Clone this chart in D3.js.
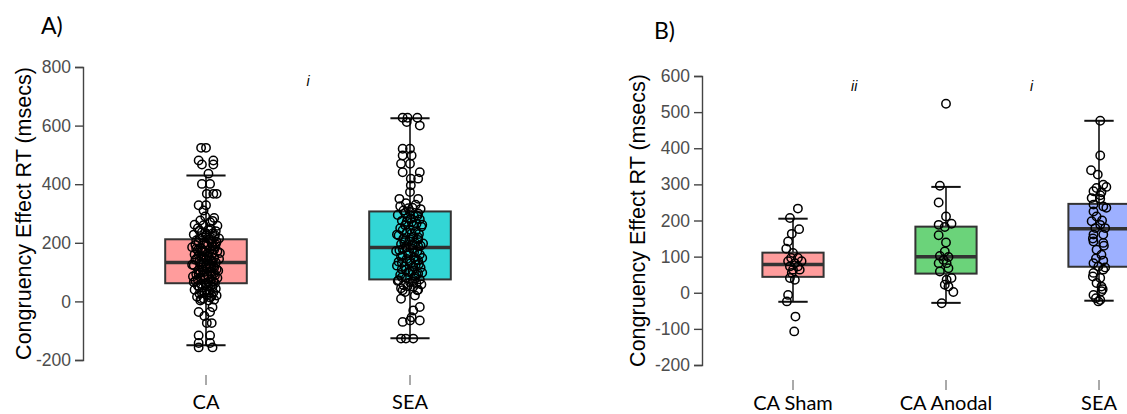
<!DOCTYPE html>
<html>
<head>
<meta charset="utf-8">
<style>
  body { margin: 0; background: #fff; }
  svg { display: block; }
</style>
</head>
<body>
<svg id="chart" width="1127" height="414"></svg>
<script src="https://d3js.org/d3.v7.min.js"></script>
<script>

// ---- panel A data ----
var catsA = ["CA", "SEA"];
var ticksA = [-200, 0, 200, 400, 600, 800];
// [whisker low, q1, median, q3, whisker high]
var boxA = [[-150, 62, 133, 212, 430], [-126, 75, 184, 307, 625]];
var colorsA = ["#FF9C9C", "#33D6D6"];

// points: [value, jitter as fraction of box width]
var pointsCA = [
  [524,-0.06],[524,0.0],[481,-0.09],[481,0.09],[467,-0.05],[467,0.09],[436,0.03],[401,-0.05],[401,0.05],
  [367,0.01],[367,0.09],[367,0.13],[328,-0.09],[328,0.0],[310,-0.03],[276,-0.07],[285,0.1],[270,0.05],
  [262,-0.14],[258,0.14],[250,-0.1],[245,0.03],[240,0.12],[236,-0.05],[232,0.08],[228,-0.15],[224,0.0],
  [220,0.1],[216,-0.08],[212,0.04],[208,-0.12],[204,0.13],[200,-0.02],[197,0.07],[193,-0.13],[190,0.02],
  [186,0.11],[182,-0.06],[178,0.05],[175,-0.1],[171,0.14],[168,-0.01],[164,0.08],[160,-0.14],[157,0.03],
  [153,-0.06],[150,0.1],[146,-0.11],[143,0.0],[140,0.06],[136,-0.08],[133,0.12],[130,-0.03],[126,0.04],
  [123,-0.15],[120,0.09],[116,-0.05],[113,0.01],[110,0.13],[106,-0.09],[103,0.05],[100,-0.02],[96,0.1],
  [93,-0.12],[90,0.02],[86,0.07],[83,-0.07],[80,0.14],[76,-0.01],[73,0.06],[70,-0.13],[66,0.03],[63,0.11],
  [60,-0.06],[56,0.0],[53,-0.1],[50,0.08],[46,-0.04],[43,0.12],[40,-0.14],[36,0.04],[33,-0.02],[30,0.09],
  [26,-0.08],[23,0.01],[20,0.13],[16,-0.11],[13,0.05],[10,-0.03],[6,0.1],
  [215,0.16],[185,-0.17],[165,0.17],[145,0.16],[125,-0.17],[105,0.15],[85,-0.16],[65,-0.15],[138,0.02],
  [152,-0.03],[118,0.06],[98,-0.07],[172,-0.04],[195,0.12],[230,0.01],[260,-0.03],[275,0.08],[290,-0.01],
  [248,0.06],[242,-0.08],[234,-0.01],[226,0.11],[218,-0.04],[210,0.07],[202,-0.09],[194,0.0],[188,0.08],
  [180,-0.12],[176,0.1],[170,-0.05],[162,0.02],[158,-0.09],[148,0.04],[142,-0.13],[135,0.08],[128,-0.07],
  [122,0.0],[115,0.1],[108,-0.04],[101,0.07],[94,-0.09],[88,0.11],[81,-0.02],[74,-0.1],[68,0.09],[61,0.0],
  [54,0.06],[47,-0.08],[39,0.01],[29,-0.05],[18,0.07],[8,-0.06],
  [3,-0.07],[3,0.03],[-20,0.08],[-36,-0.09],[-36,0.05],[-50,-0.02],[-74,0.01],[-74,0.07],
  [-116,-0.09],[-116,0.05],[-142,-0.09],[-142,0.05],[-157,-0.09],[-157,0.08]
];
var pointsSEA_A = [
  [627,-0.09],[627,-0.03],[627,0.09],[612,-0.04],[600,0.12],
  [521,-0.09],[521,0.0],[498,-0.09],[498,0.02],[470,-0.11],[470,0.0],[441,-0.09],[441,0.12],[419,0.01],
  [419,0.1],[396,0.01],[373,0.0],[350,-0.13],[350,0.1],
  [335,-0.05],[330,0.07],[325,-0.12],[320,0.03],[315,0.13],[310,-0.08],[305,0.0],[300,0.1],[295,-0.15],
  [290,0.05],[285,-0.03],[280,0.12],[275,-0.1],[270,0.02],[265,0.08],[260,-0.06],[255,0.14],[250,-0.12],
  [245,0.0],[240,0.07],[235,-0.04],[230,0.11],[225,-0.14],[220,0.04],[215,-0.08],[210,0.1],[205,-0.01],
  [200,0.06],[195,-0.11],[190,0.13],[185,-0.05],[180,0.03],[175,-0.13],[170,0.09],[165,-0.02],[160,0.12],
  [155,-0.09],[150,0.05],[145,-0.04],[140,0.1],[135,-0.14],[130,0.01],[125,0.07],[120,-0.07],[115,0.13],
  [110,-0.1],[105,0.03],[100,-0.02],[95,0.1],[90,-0.12],[85,0.06],[80,-0.05],[75,0.12],[70,-0.15],
  [65,0.0],[60,0.08],[55,-0.08],[50,0.04],[45,-0.11],[40,0.1],
  [318,-0.02],[262,0.15],[228,-0.16],[198,0.16],[172,-0.17],[148,0.15],[122,-0.16],[98,0.15],[72,-0.14],
  [58,0.14],[138,0.0],[208,-0.06],[282,0.01],[32,-0.06],[20,0.06],
  [302,-0.06],[292,0.09],[272,-0.04],[258,0.04],[243,-0.09],[232,0.02],[218,0.1],[202,-0.07],[192,0.03],
  [178,-0.09],[168,0.05],[158,-0.02],[142,0.07],[132,-0.1],[118,0.04],[108,-0.05],[92,0.08],[82,-0.1],
  [68,0.03],[52,-0.03],[212,0.0],[188,0.1],[152,-0.11],[128,0.11],[102,0.0],[78,0.06],
  [38,-0.09],[38,0.09],[9,-0.11],[-19,0.12],[-31,0.04],[-54,0.02],[-65,0.0],[-65,0.12],[-70,-0.09],
  [-127,-0.11],[-127,-0.05],[-127,0.04]
];
var annotA = [{text: "i", between: 0, t: 0.5}];

// ---- panel B data ----
var catsB = ["CA Sham", "CA Anodal", "SEA"];
var ticksB = [-200, -100, 0, 100, 200, 300, 400, 500, 600];
var boxB = [[-25, 44, 78, 111, 205], [-28, 53, 100, 183, 293], [-22, 72, 177, 246, 476]];
var colorsB = ["#FF9C9C", "#6BD37A", "#9DB0FF"];

var pointsSham = [
  [233,0.08],[207,-0.05],[176,0.10],[163,-0.02],[142,-0.08],[122,-0.11],[110,0.0],[96,-0.03],[96,0.08],
  [87,-0.08],[82,0.03],[87,0.14],[73,-0.05],[73,0.08],[64,0.0],[64,0.11],[55,-0.02],[41,-0.05],[36,0.03],
  [-6,-0.08],[-24,-0.1],[-66,0.04],[-107,0.02]
];
var pointsAnodal = [
  [523,0.0],[296,-0.1],[250,-0.12],[211,0.0],[188,-0.12],[191,0.09],[182,-0.02],[159,-0.12],[139,0.0],
  [114,-0.02],[102,-0.1],[99,0.04],[91,-0.04],[82,-0.12],[82,0.01],[68,0.04],[59,-0.1],[41,0.09],
  [36,0.01],[22,-0.02],[17,0.04],[2,0.12],[-29,-0.07]
];
var pointsSEA_B = [
  [476,0.02],[380,0.02],[339,-0.13],[327,-0.02],[299,0.07],[290,-0.04],[293,0.12],[281,-0.09],[278,0.04],
  [262,-0.12],[260,0.02],[244,-0.09],[239,0.07],[225,-0.09],[211,-0.04],[198,-0.12],[188,0.02],[179,0.1],
  [179,-0.06],[161,-0.09],[161,0.07],[142,-0.09],[138,0.07],[119,-0.04],[105,0.04],[89,0.07],[82,-0.09],
  [73,-0.01],[64,0.07],[55,-0.09],[41,0.02],[27,-0.04],[17,0.04],[-6,-0.09],[4,0.04],[-24,-0.01],
  [-15,-0.05],[200,0.05],[150,-0.1],[130,0.08],[95,-0.05],[70,0.1],[45,-0.1],[10,0.06],[-20,0.02],
  [235,0.12],[270,0.02]
];
var annotB = [{text: "ii", between: 0, t: 0.4}, {text: "i", between: 1, t: 0.56}];

var svg = d3.select("#chart");

function drawPanel(p) {
  var g = svg.append("g");

  var x = d3.scalePoint().domain(p.cats).range(p.xRange).padding(0.5);
  var step = x.step();
  var boxW = step * 0.4;
  var capW = boxW * 0.48;
  var y = d3.scaleLinear().domain(p.yDomain).range(p.yRange);

  // y axis
  var yAxis = g.append("g")
      .attr("transform", "translate(" + p.axisX + ",0)")
      .call(d3.axisLeft(y).tickValues(p.ticks).tickFormat(function(d) { return String(d); })
        .tickSizeOuter(0).tickSize(8).tickPadding(4));
  yAxis.select(".domain").attr("stroke", "#444").attr("stroke-width", 1.4);
  yAxis.selectAll(".tick line").attr("stroke", "#444").attr("stroke-width", 1.4);
  yAxis.selectAll(".tick text")
      .attr("fill", "#4d4d4d")
      .style("font-family", "'Liberation Sans', Arial, sans-serif")
      .style("font-size", "17.5px");

  g.append("text")
      .attr("transform", "translate(" + p.titleX + "," + (y(p.yDomain[0]) + y(p.yDomain[1])) / 2 + ") rotate(-90)")
      .attr("text-anchor", "middle")
      .attr("dy", "0.35em")
      .style("font-family", "'Liberation Sans', Arial, sans-serif")
      .style("font-size", "21.5px")
      .attr("fill", "#000")
      .text("Congruency Effect RT (msecs)");

  // x ticks and labels
  var xt = g.selectAll(".xtick").data(p.cats).enter().append("g")
      .attr("transform", function(d) { return "translate(" + x(d) + ",0)"; });
  xt.append("line")
      .attr("y1", p.xTickY).attr("y2", p.xTickY + 10)
      .attr("stroke", "#555").attr("stroke-width", 1);
  xt.append("text")
      .attr("y", p.xLabelY)
      .attr("text-anchor", "middle")
      .style("font-family", "Lato, 'Open Sans', sans-serif")
      .style("font-size", "20px")
      .attr("fill", "#000")
      .text(function(d) { return d; });

  // boxes
  var bx = g.selectAll(".box").data(p.cats).enter().append("g")
      .attr("transform", function(d) { return "translate(" + x(d) + ",0)"; });
  bx.append("line")
      .attr("y1", function(d, i) { return y(p.box[i][0]); })
      .attr("y2", function(d, i) { return y(p.box[i][4]); })
      .attr("stroke", "#111").attr("stroke-width", 1.6);
  [0, 4].forEach(function(k) {
    bx.append("line")
        .attr("x1", -capW / 2).attr("x2", capW / 2)
        .attr("y1", function(d, i) { return y(p.box[i][k]); })
        .attr("y2", function(d, i) { return y(p.box[i][k]); })
        .attr("stroke", "#111").attr("stroke-width", 2);
  });
  bx.append("rect")
      .attr("x", -boxW / 2).attr("width", boxW)
      .attr("y", function(d, i) { return y(p.box[i][3]); })
      .attr("height", function(d, i) { return y(p.box[i][1]) - y(p.box[i][3]); })
      .attr("fill", function(d, i) { return p.colors[i]; })
      .attr("stroke", "#333").attr("stroke-width", 2);
  bx.append("line")
      .attr("x1", -boxW / 2).attr("x2", boxW / 2)
      .attr("y1", function(d, i) { return y(p.box[i][2]); })
      .attr("y2", function(d, i) { return y(p.box[i][2]); })
      .attr("stroke", "#333").attr("stroke-width", 3.5);

  // points
  p.points.forEach(function(pts, i) {
    var cx = x(p.cats[i]);
    g.append("g").selectAll("circle").data(pts).enter().append("circle")
        .attr("cx", function(d) { return cx + d[1] * boxW; })
        .attr("cy", function(d) { return y(d[0]); })
        .attr("r", 4.2)
        .attr("fill", "none")
        .attr("stroke", "#000")
        .attr("stroke-width", 1.5);
  });

  // significance annotations
  g.selectAll(".annot").data(p.annot).enter().append("text")
      .attr("x", function(d) {
        var a = x(p.cats[d.between]), b = x(p.cats[d.between + 1]);
        return a + (b - a) * d.t;
      })
      .attr("y", p.annotY)
      .attr("text-anchor", "middle")
      .style("font-family", "'Liberation Sans', Arial, sans-serif")
      .style("font-style", "italic")
      .style("font-size", "14px")
      .attr("fill", "#000")
      .text(function(d) { return d.text; });

  // panel letter
  g.append("text")
      .attr("x", p.letterX).attr("y", p.letterY)
      .style("font-family", "Lato, 'Open Sans', sans-serif")
      .style("font-size", "23px")
      .attr("fill", "#000")
      .text(p.letter);
}

drawPanel({
  cats: catsA, ticks: ticksA, box: boxA, colors: colorsA,
  points: [pointsCA, pointsSEA_A], annot: annotA,
  xRange: [104, 512], yDomain: [-200, 800], yRange: [360, 67],
  axisX: 83, titleX: 23, xTickY: 375, xLabelY: 409, annotY: 86,
  letter: "A)", letterX: 41, letterY: 34
});

drawPanel({
  cats: catsB, ticks: ticksB, box: boxB, colors: colorsB,
  points: [pointsSham, pointsAnodal, pointsSEA_B], annot: annotB,
  xRange: [716.5, 1175.5], yDomain: [-200, 600], yRange: [365, 76],
  axisX: 702, titleX: 637, xTickY: 380, xLabelY: 410, annotY: 91,
  letter: "B)", letterX: 654, letterY: 39
});

</script>
</body>
</html>
